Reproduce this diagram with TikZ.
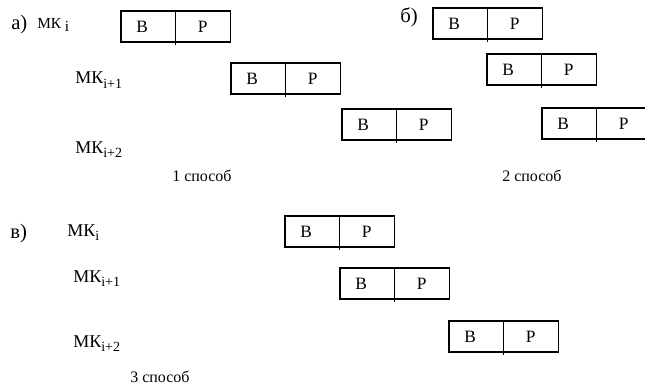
\documentclass[tikz,border=0pt]{standalone}
\usepackage{fontspec}
\setmainfont{Liberation Serif}
\usetikzlibrary{positioning}
\tikzset{
  cell/.style={draw, line width=0.8pt, inner sep=0pt, outer sep=0pt,
    minimum width=40.9pt, minimum height=23.25pt, font=\fontsize{13}{15}\selectfont},
}
% microcommand label with a lowered index
\newcommand{\mk}[1]{МК\raisebox{-3.4pt}{\fontsize{10.5}{12}\selectfont #1}}

\begin{document}
\begin{tikzpicture}[x=0.75pt, y=-0.75pt,
  lbl/.style={anchor=base west, inner sep=0pt, font=\fontsize{13.5}{16}\selectfont},
  part/.style={anchor=base west, inner sep=0pt, font=\fontsize{15.5}{18}\selectfont},
  way/.style={anchor=base west, inner sep=0pt, font=\fontsize{12}{14}\selectfont}
]
  \useasboundingbox (0,0) rectangle (645,385);
  \clip (0,0) rectangle (645,385);

  % fetch / run boxes
  \foreach \nm/\x/\y in {a1/121/11, a2/231/63, a3/342/109,
                         b1/433/8, b2/487/54, b3/542/108,
                         c1/285/216, c2/340/268, c3/449/321}{
    \node[cell, anchor=north west] (\nm v) at (\x,\y) {В\kern9pt};
    \node[cell, right=0pt of \nm v] (\nm r) {Р};
    \draw[line width=0.8pt] (\nm v.south east) -- ++(0,3);
  }

  % case a
  \node[part] (pa) at (11,30) {а)};
  \node[lbl, font=\fontsize{11.5}{13}\selectfont] (mka0) at (37,29) {МК\ \raisebox{-2pt}{i}};
  \node[lbl] (mka1) at (75,84) {\mk{i+1}};
  \node[lbl] (mka2) at (75,153) {\mk{i+2}};
  \node[way] (wa) at (172,181) {1 способ};

  % case b
  \node[part] (pb) at (400,23) {б)};
  \node[way] (wb) at (502,181) {2 способ};

  % case c
  \node[part] (pc) at (10,238) {в)};
  \node[lbl] (mkc0) at (67,236) {\mk{i}};
  \node[lbl] (mkc1) at (73,282) {\mk{i+1}};
  \node[lbl] (mkc2) at (73,347) {\mk{i+2}};
  \node[way] (wc) at (130,382) {3 способ};
\end{tikzpicture}
\end{document}
